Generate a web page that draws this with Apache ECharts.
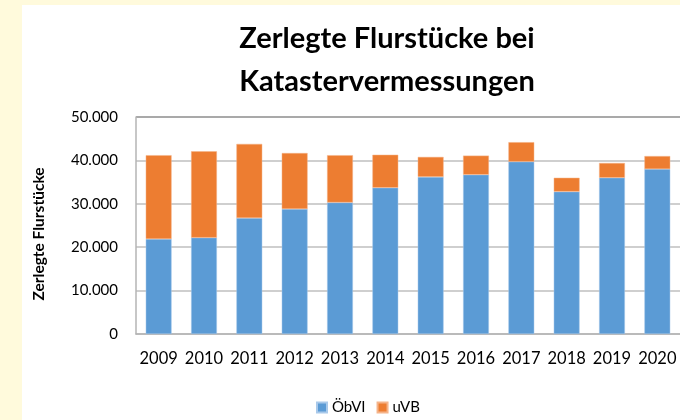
<!DOCTYPE html>
<html>
<head>
<meta charset="utf-8">
<script src="https://cdn.jsdelivr.net/npm/echarts@6/dist/echarts.min.js"></script>
<style>
  html, body { margin: 0; padding: 0; background: #fffadc; }
  #chart { width: 680px; height: 420px; }
</style>
</head>
<body>
<div id="chart"></div>
<script>
// Daten
const jahre = ['2009', '2010', '2011', '2012', '2013', '2014', '2015', '2016', '2017', '2018', '2019', '2020'];
const oebvi = [21900, 22200, 26700, 28800, 30300, 33700, 36200, 36700, 39700, 32800, 36000, 38000];
const uvb = [19300, 19900, 17100, 12900, 10900, 7600, 4600, 4400, 4500, 3200, 3400, 3000];

const chart = echarts.init(document.getElementById('chart'));
const font = 'Lato';

const option = {
  backgroundColor: '#fffadc',
  textStyle: { fontFamily: font },
  animation: false,
  title: {
    text: 'Zerlegte Flurstücke bei\nKatastervermessungen',
    left: 387,
    top: 17,
    padding: 0,
    textAlign: 'center',
    textStyle: { fontSize: 29, fontWeight: 'bold', color: '#000', lineHeight: 43, fontFamily: font }
  },
  graphic: [
    { type: 'rect', z: -100, shape: { x: 22, y: 5, width: 700, height: 420 }, style: { fill: '#fff' } },
    {
      type: 'text', x: 39, y: 234, rotation: Math.PI / 2,
      style: { text: 'Zerlegte Flurstücke', font: 'bold 15.5px Lato', fill: '#000', align: 'center', verticalAlign: 'middle' }
    }
  ],
  legend: {
    left: 316,
    top: 400,
    padding: 0,
    itemWidth: 10,
    itemHeight: 10,
    itemGap: 11,
    icon: 'rect',
    textStyle: { fontSize: 15, color: '#000', fontFamily: font },
    data: ['ÖbVI', 'uVB']
  },
  grid: { left: 136, top: 117, width: 548, height: 217 },
  xAxis: {
    type: 'category',
    data: jahre,
    axisLine: { lineStyle: { color: '#b4b4b4', width: 1.5 } },
    axisTick: { show: false },
    axisLabel: { interval: 0, fontSize: 16.5, color: '#000', margin: 16, fontFamily: font }
  },
  yAxis: {
    type: 'value',
    min: 0,
    max: 50000,
    interval: 10000,
    axisLine: { show: true, lineStyle: { color: '#b4b4b4', width: 1.5 } },
    axisTick: { show: false },
    splitLine: { lineStyle: { color: ['#bfbfbf', '#bfbfbf', '#bfbfbf', '#bfbfbf', '#bfbfbf', '#8c8c8c'], width: 1.5 } },
    axisLabel: {
      fontSize: 15, color: '#000', margin: 18, fontFamily: font,
      formatter: v => v === 0 ? '0' : v.toLocaleString('de-DE')
    }
  },
  series: [
    {
      name: 'ÖbVI', type: 'bar', stack: 'gesamt', data: oebvi,
      barCategoryGap: '43%',
      itemStyle: { color: '#5b9bd5', borderColor: '#a9c9ea', borderWidth: 0.5 }
    },
    {
      name: 'uVB', type: 'bar', stack: 'gesamt', data: uvb,
      barCategoryGap: '43%',
      itemStyle: { color: '#ed7d31', borderColor: '#f5b48a', borderWidth: 0.5 }
    }
  ]
};
chart.setOption(option);
</script>
</body>
</html>
